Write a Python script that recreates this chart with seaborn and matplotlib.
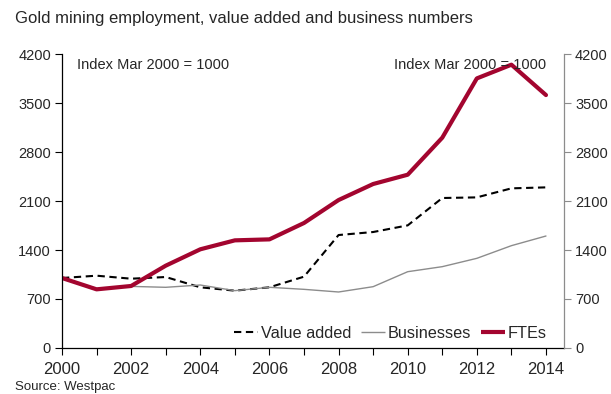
import matplotlib
matplotlib.use("Agg")
import matplotlib.pyplot as plt
import seaborn as sns
import pandas as pd

sns.set_theme(style="white")
plt.rcParams["font.family"] = ["Liberation Sans", "DejaVu Sans"]

years = list(range(2000, 2015))
value_added = [1000, 1033, 990, 1014, 867, 819, 867, 1019, 1614, 1657, 1752, 2143, 2152, 2281, 2295]
businesses = [1000, 850, 880, 867, 900, 819, 867, 838, 800, 876, 1090, 1162, 1281, 1462, 1600]
ftes = [1000, 838, 886, 1176, 1410, 1538, 1552, 1786, 2114, 2343, 2476, 3005, 3852, 4048, 3614]
y_ticks = [0, 700, 1400, 2100, 2800, 3500, 4200]
x_ticks = list(range(2000, 2015, 2))

RED = "#A3052F"
GREY = "#8C8C8C"

df = pd.DataFrame({"year": years, "Value added": value_added,
                   "Businesses": businesses, "FTEs": ftes})

fig = plt.figure(figsize=(6.11, 3.94), dpi=100)
ax = fig.add_axes([0.1015, 0.1168, 0.8215, 0.746])

sns.lineplot(data=df, x="year", y="Value added", ax=ax, color="black",
             linewidth=1.5, linestyle=(0, (3.5, 2.2)), label="Value added")
sns.lineplot(data=df, x="year", y="Businesses", ax=ax, color=GREY,
             linewidth=1.0, label="Businesses")
sns.lineplot(data=df, x="year", y="FTEs", ax=ax, color=RED,
             linewidth=3.0, label="FTEs")

ax.set_xlim(2000, 2014.52)
ax.set_ylim(0, 4200)
ax.set_xticks(x_ticks)
ax.set_xticks(years, minor=True)
ax.set_yticks(y_ticks)
ax.set_xlabel("")
ax.set_ylabel("")
ax.tick_params(axis="both", which="both", direction="out", length=5,
               width=0.8, color="black", bottom=True, left=True)
ax.tick_params(axis="y", labelsize=10.5, pad=3)
ax.tick_params(axis="x", labelsize=12, pad=5)

ax.spines["top"].set_visible(False)
ax.spines["right"].set_visible(False)
ax.spines["left"].set_color("black")
ax.spines["bottom"].set_color("black")
ax.spines["left"].set_linewidth(0.9)
ax.spines["bottom"].set_linewidth(0.9)

ax2 = ax.twinx()
ax2.set_ylim(0, 4200)
ax2.set_yticks(y_ticks)
ax2.tick_params(axis="y", direction="out", length=5, width=0.8,
                color=GREY, labelsize=10.5, pad=3, right=True)
for side in ("top", "left", "bottom"):
    ax2.spines[side].set_visible(False)
ax2.spines["right"].set_color(GREY)
ax2.spines["right"].set_linewidth(0.9)

leg = ax.legend(loc="center right", ncol=3, frameon=False, fontsize=11.7,
                handlelength=1.45, handletextpad=0.2, columnspacing=0.6,
                borderaxespad=0, borderpad=0,
                bbox_to_anchor=(547 / 611, 1 - 333 / 394),
                bbox_transform=fig.transFigure)
for line in leg.get_lines():
    line.set_solid_capstyle("butt")

ax.text(0.03, 0.985, "Index Mar 2000 = 1000", transform=ax.transAxes,
        ha="left", va="top", fontsize=10.5)
ax.text(0.965, 0.985, "Index Mar 2000 = 1000", transform=ax.transAxes,
        ha="right", va="top", fontsize=10.5)

fig.text(15 / 611, 1 - 18 / 394, "Gold mining employment, value added and business numbers",
         ha="left", va="center", fontsize=12)
fig.text(15 / 611, 1 - 387 / 394, "Source: Westpac", ha="left", va="center",
         fontsize=9.5)

fig.savefig("out.png", dpi=100)
